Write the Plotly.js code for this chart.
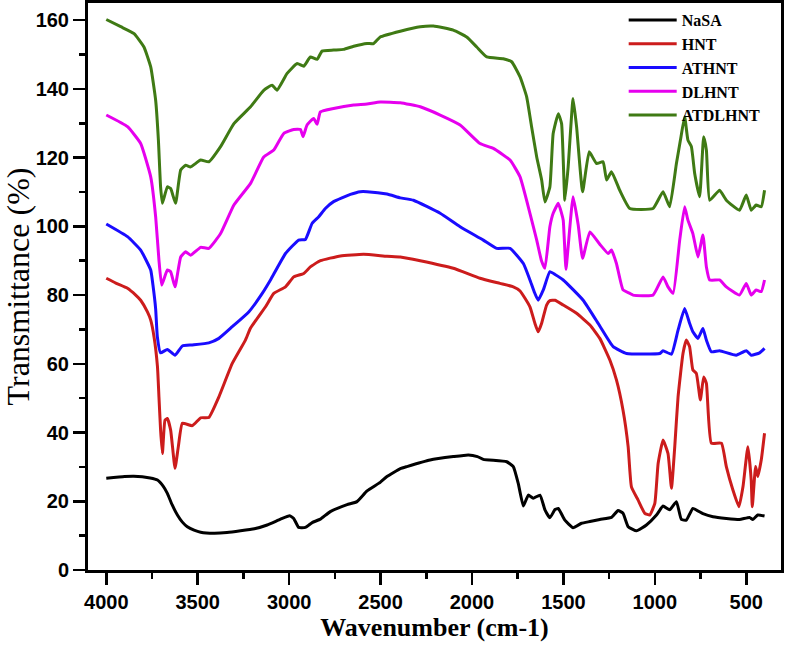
<!DOCTYPE html>
<html>
<head>
<meta charset="utf-8">
<script src="https://cdn.plot.ly/plotly-3.0.1.min.js"></script>
<style>html,body{margin:0;padding:0;background:#fff;}#chart{width:787px;height:647px;}</style>
</head>
<body>
<div id="chart"></div>
<script>
// Series names
const seriesNames = ["NaSA", "HNT", "ATHNT", "DLHNT", "ATDLHNT"];

// NaSA
const wnNaSA = [4000,3900,3850,3760,3720,3690,3666,3640,3611,3585,3557,3520,3484,3412,3340,3266,3190,3120,3047,2997,2975,2948,2911,2874,2829,2775,2683,2629,2574,2502,2465,2392,2356,2229,2102,2020,1970,1938,1810,1774,1747,1719,1692,1665,1628,1601,1574,1546,1528,1492,1447,1401,1355,1301,1237,1201,1174,1146,1100,1046,991,955,919,882,855,828,792,737,682,609,537,482,464,437,400];
const tNaSA = [26.7,27.2,27.3,26.8,26.2,24.5,22.3,19.0,16.0,14.0,12.6,11.6,11.0,10.7,10.9,11.4,12.0,13.1,14.8,15.8,15.0,12.4,12.4,13.8,14.8,17.0,19.0,19.9,23.0,25.5,27.2,29.5,30.1,32.0,33.0,33.5,33.0,32.2,31.5,30.1,25.2,18.6,21.8,20.9,21.8,17.5,15.2,17.6,17.9,14.5,12.3,13.6,14.1,14.7,15.3,17.3,16.5,12.6,11.4,13.1,16.0,18.6,17.5,19.9,14.7,14.5,17.9,16.4,15.5,15.0,14.7,15.3,14.7,16.0,15.7];

// HNT
const wnHNT = [4000,3948,3884,3839,3812,3775,3757,3739,3720,3712,3703,3693,3679,3666,3648,3624,3606,3584,3530,3484,3439,3384,3311,3239,3211,3129,3084,3020,2975,2920,2884,2829,2720,2593,2465,2392,2283,2102,1956,1847,1774,1737,1683,1656,1638,1619,1592,1574,1546,1501,1428,1355,1301,1246,1210,1174,1146,1128,1092,1055,1028,1000,982,955,928,909,891,873,846,828,810,792,773,751,733,718,691,636,609,573,540,518,491,473,467,449,437,418,400];
const tHNT = [84.9,83.5,82.0,80.0,78.5,75.1,72.7,67.9,59.1,50.4,40.7,33.9,43.6,44.1,40.7,29.6,35.9,42.7,42.0,44.3,44.4,50.4,60.1,66.9,70.4,76.6,80.5,82.4,85.3,86.3,88.2,90.0,91.4,91.9,91.3,91.1,90.0,87.8,84.9,83.4,82.4,81.2,76.6,71.8,69.3,71.8,77.1,78.4,78.5,77.1,74.7,71.3,67.4,61.1,55.3,46.5,35.9,24.2,20.4,16.5,16.0,19.4,31.0,37.8,33.9,23.8,35.9,50.4,63.0,66.9,65.0,58.2,57.2,49.5,56.2,54.3,36.9,36.9,30.1,23.3,18.4,24.2,35.9,26.2,18.4,30.1,27.2,32.0,39.8];

// ATHNT
const wnATHNT = [4000,3884,3812,3757,3745,3730,3721,3703,3666,3624,3584,3530,3439,3384,3311,3221,3147,3102,3020,2948,2911,2874,2838,2802,2757,2665,2611,2574,2465,2392,2320,2174,2065,1938,1865,1792,1719,1683,1660,1638,1610,1574,1546,1501,1392,1301,1228,1155,973,955,909,873,837,810,792,764,737,718,691,646,555,500,473,427,400];
const tATHNT = [100.7,97.0,93.1,87.3,83.0,76.0,68.0,63.2,64.2,62.5,65.2,65.5,66.1,67.4,70.8,75.1,80.5,84.4,92.1,96.0,96.2,100.9,102.8,105.2,107.2,109.3,110.1,110.1,109.4,108.3,107.6,103.8,99.9,96.0,93.6,93.6,89.2,84.4,81.0,78.5,81.5,86.8,86.0,84.4,78.5,71.0,65.0,63.0,63.0,63.8,62.8,69.8,76.1,71.8,69.3,67.4,70.3,66.9,63.5,63.8,62.5,63.8,62.5,63.2,64.5];

// DLHNT
const wnDLHNT = [4000,3884,3812,3757,3730,3712,3697,3666,3648,3624,3593,3566,3539,3484,3439,3375,3302,3211,3139,3084,3030,2975,2938,2924,2902,2866,2847,2829,2757,2647,2574,2502,2392,2283,2174,2065,1956,1883,1792,1737,1683,1646,1620,1601,1574,1556,1528,1510,1501,1486,1474,1447,1419,1395,1355,1301,1255,1237,1210,1174,1137,1119,1010,955,928,900,864,837,819,792,764,737,718,700,646,609,537,500,473,446,418,400];
const tDLHNT = [132.4,129.0,124.1,114.4,102.8,90.2,82.9,87.3,86.8,82.4,91.1,92.6,91.6,93.9,93.6,97.9,106.2,112.5,120.2,122.2,127.0,128.2,128.2,126.1,129.5,131.4,129.7,133.3,134.3,135.3,135.6,136.2,136.0,134.8,132.4,129.5,124.1,122.7,119.3,114.4,103.8,96.0,90.0,87.8,99.9,103.8,106.7,103.8,101.8,87.5,94.1,108.6,100.4,90.7,98.4,94.8,92.1,93.1,89.2,81.5,80.5,80.0,80.0,85.3,82.4,80.5,96.0,105.7,101.8,97.9,91.1,97.5,88.2,84.4,84.4,82.4,80.0,83.4,80.0,81.5,81.0,84.4];

// ATDLHNT
const wnATDLHNT = [4000,3921,3848,3794,3757,3730,3715,3703,3693,3666,3648,3621,3593,3566,3539,3484,3439,3375,3302,3211,3139,3093,3066,3011,2956,2920,2884,2847,2820,2757,2702,2647,2574,2538,2502,2392,2283,2211,2102,2029,1974,1919,1829,1783,1737,1701,1674,1646,1619,1601,1574,1556,1528,1510,1492,1474,1447,1428,1395,1359,1319,1283,1264,1237,1192,1137,1010,955,919,882,860,837,819,800,782,755,733,718,700,646,609,537,500,473,446,418,400];
const tATDLHNT = [160.2,158.1,156.1,152.2,146.4,136.7,125.1,111.5,106.7,111.5,111.0,106.7,116.4,117.8,117.3,119.3,118.8,123.2,129.9,134.8,139.6,141.1,139.6,144.5,147.4,146.6,149.3,148.6,151.0,151.3,151.5,152.4,153.2,153.2,155.1,156.8,158.1,158.3,157.1,155.1,152.2,149.3,148.8,147.9,143.5,137.7,129.0,120.2,113.5,107.1,111.5,127.0,132.8,129.9,107.6,117.3,137.2,129.0,110.1,121.7,118.3,118.8,113.5,115.9,110.5,105.2,105.2,110.1,105.7,118.3,125.1,131.9,125.1,123.2,115.4,108.6,126.1,122.2,107.6,110.5,107.6,104.7,109.1,104.7,106.2,105.7,110.5];

// X tick labels / Y tick labels
const xTickVals = [4000,3500,3000,2500,2000,1500,1000,500];
const xTickText = ["4000","3500","3000","2500","2000","1500","1000","500"];
const yTickVals = [0,20,40,60,80,100,120,140,160];
const yTickText = ["0","20","40","60","80","100","120","140","160"];

const colors = ["#000000", "#cc1c1c", "#1a0cff", "#e600ee", "#3f7a14"];
const xs = [wnNaSA, wnHNT, wnATHNT, wnDLHNT, wnATDLHNT];
const ys = [tNaSA, tHNT, tATHNT, tDLHNT, tATDLHNT];

const traces = seriesNames.map((n, i) => ({
  type: "scatter",
  mode: "lines",
  name: n,
  x: xs[i],
  y: ys[i],
  line: {color: colors[i], width: 3, shape: "spline", smoothing: 0.4}
}));

const tickFont = {family: "Liberation Sans, Arial, sans-serif", size: 20, color: "#000", weight: "bold"};

const layout = {
  width: 787,
  height: 647,
  margin: {l: 88, r: 6, t: 3, b: 77},
  paper_bgcolor: "#fff",
  plot_bgcolor: "#fff",
  showlegend: true,
  legend: {
    x: 0.773, y: 1, xanchor: "left", yanchor: "top",
    bgcolor: "rgba(0,0,0,0)",
    font: {family: "Liberation Serif, Times New Roman, serif", size: 16, color: "#000", weight: "bold"},
    itemwidth: 48,
    tracegroupgap: 0
  },
  xaxis: {
    range: [4100, 310],
    autorange: false,
    tickmode: "array",
    tickvals: xTickVals,
    ticktext: xTickText,
    ticks: "outside",
    ticklen: 12,
    tickwidth: 2.5,
    tickcolor: "#000",
    minor: {tickmode: "linear", tick0: 250, dtick: 500, ticks: "outside", ticklen: 6, tickwidth: 2.5, tickcolor: "#000", showgrid: false},
    showline: true,
    linewidth: 3,
    linecolor: "#000",
    mirror: true,
    showgrid: false,
    zeroline: false,
    tickfont: tickFont,
    title: {text: "Wavenumber (cm-1)", font: {family: "Liberation Serif, Times New Roman, serif", size: 26, color: "#000", weight: "bold"}, standoff: 4}
  },
  yaxis: {
    range: [0, 165],
    autorange: false,
    tickmode: "array",
    tickvals: yTickVals,
    ticktext: yTickText,
    ticks: "outside",
    ticklen: 12,
    tickwidth: 2.5,
    tickcolor: "#000",
    minor: {tickmode: "linear", tick0: 10, dtick: 20, ticks: "outside", ticklen: 6, tickwidth: 2.5, tickcolor: "#000", showgrid: false},
    showline: true,
    linewidth: 3,
    linecolor: "#000",
    mirror: true,
    showgrid: false,
    zeroline: false,
    tickfont: tickFont,
    title: {text: "Transmittance (%)", font: {family: "Liberation Serif, Times New Roman, serif", size: 32, color: "#000"}, standoff: 2}
  }
};

Plotly.newPlot("chart", traces, layout, {displayModeBar: false, staticPlot: true});
</script>
</body>
</html>
